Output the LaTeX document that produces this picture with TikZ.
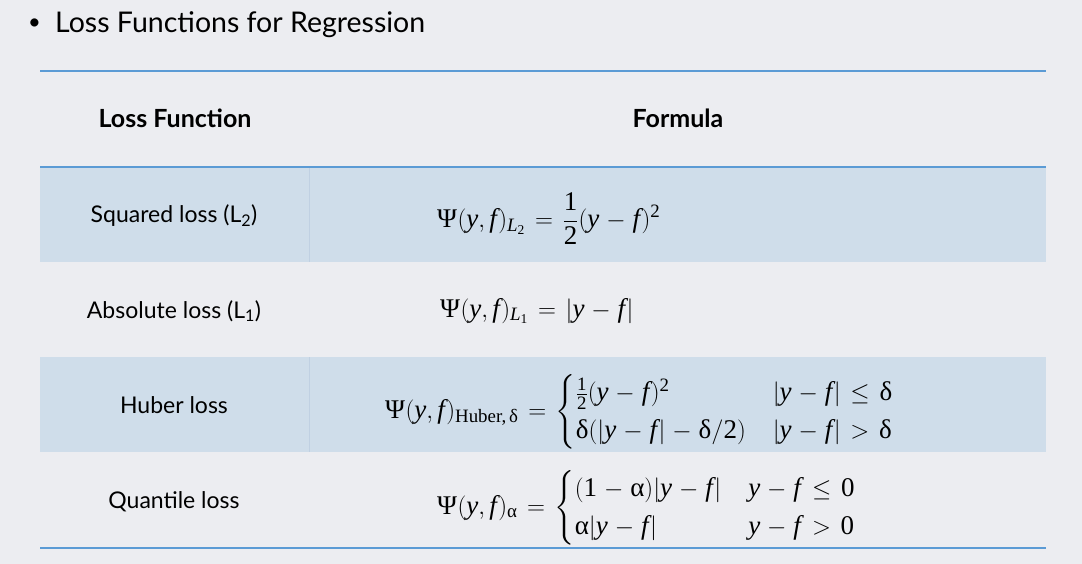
\documentclass[tikz,border=0pt]{standalone}
\usepackage{amsmath}
\usepackage[no-math]{fontspec}
\setmainfont{Lato}
\newfontfamily\tnr{Liberation Serif}
\newcommand\N[1]{\text{\tnr #1}}
\newcommand\Y{\text{\tnr\itshape y}}
\newcommand\F{\text{\tnr\itshape f}\kern1.5pt}
\newcommand\PS{\text{\tnr Ψ}\kern0.5pt}
\newcommand\DL{\text{\tnr δ}}
\newcommand\AL{\text{\tnr α}}
\newcommand\LL{\text{\tnr\itshape L}}
\newcommand\widemath{\thickmuskip=7mu plus 5mu\relax\medmuskip=5mu plus 2mu minus 4mu\relax}
\definecolor{bgc}{HTML}{ECEDF1}
\definecolor{rowc}{HTML}{CFDDEA}
\definecolor{rulec}{HTML}{5B9BD5}
\definecolor{divc}{HTML}{C0D0E2}
\tikzset{
  rulel/.style={draw=rulec, line width=2pt},
  txt/.style={inner sep=0pt, font=\fontsize{23}{27}\selectfont, anchor=base},
  hdr/.style={inner sep=0pt, font=\fontsize{25}{29}\selectfont\bfseries, anchor=base},
  mth/.style={inner sep=0pt, font=\fontsize{27}{32}\selectfont\widemath},
}
\begin{document}
\begin{tikzpicture}[x=1pt,y=-1pt]
\fill[bgc] (0,0) rectangle (1082,564);
\useasboundingbox (0,0) rectangle (1082,564);
% shaded rows
\fill[rowc] (40,167) rectangle (1046,262);
\fill[rowc] (40,357) rectangle (1046,452);
\draw[divc, line width=1pt] (309,168) -- (309,262);
\draw[divc, line width=1pt] (309,357) -- (309,452);
% rules
\coordinate (r1a) at (40,71); \coordinate (r1b) at (1046,71);
\coordinate (r2a) at (40,167); \coordinate (r2b) at (1046,167);
\coordinate (r3a) at (40,548); \coordinate (r3b) at (1046,548);
\draw[rulel] (r1a) -- (r1b);
\draw[rulel] (r2a) -- (r2b);
\draw[rulel] (r3a) -- (r3b);
% title
\node[inner sep=0pt, anchor=base west, font=\fontsize{22}{26}\selectfont] (bul) at (28,30) {•};
\node[inner sep=0pt, anchor=base west, font=\fontsize{28.5}{32}\selectfont] (title) at (55,33) {Loss Functions for Regression};
% header
\node[hdr] (h1) at (175,128) {Loss Function};
\node[hdr] (h2) at (678,128) {Formula};
% left column
\node[txt] (l1) at (174,223) {Squared loss (L\textsubscript{2})};
\node[txt] (l2) at (174,318) {Absolute loss (L\textsubscript{1})};
\node[txt] (l3) at (174,413) {Huber loss};
\node[txt] (l4) at (174,508) {Quantile loss};
% formulas
\node[mth, anchor=west] (f1) at (437,219) {$\displaystyle \PS(\Y,\F)_{\LL_{\N{2}}} = \frac{\N{1}}{\N{2}}(\Y-\F)^{\N{2}}$};
\node[mth, anchor=base west] (f2) at (440,317) {$\PS(\Y,\F)_{\LL_{\N{1}}} = |\Y-\F|$};
\node[mth, anchor=west] (f3) at (385,412) {$\PS(\Y,\F)_{\N{Huber,}\,\DL} = \begin{cases} \frac{\N{1}}{\N{2}}(\Y-\F)^{\N{2}} & |\Y-\F| \le \DL\\ \DL(|\Y-\F|-\DL/\N{2}) & |\Y-\F| > \DL \end{cases}$};
\node[mth, anchor=west] (f4) at (437,508) {$\PS(\Y,\F)_{\AL} = \begin{cases} (\N{1}-\AL)|\Y-\F| & \Y-\F \le \N{0}\\ \AL|\Y-\F| & \Y-\F > \N{0} \end{cases}$};
\end{tikzpicture}
\end{document}
